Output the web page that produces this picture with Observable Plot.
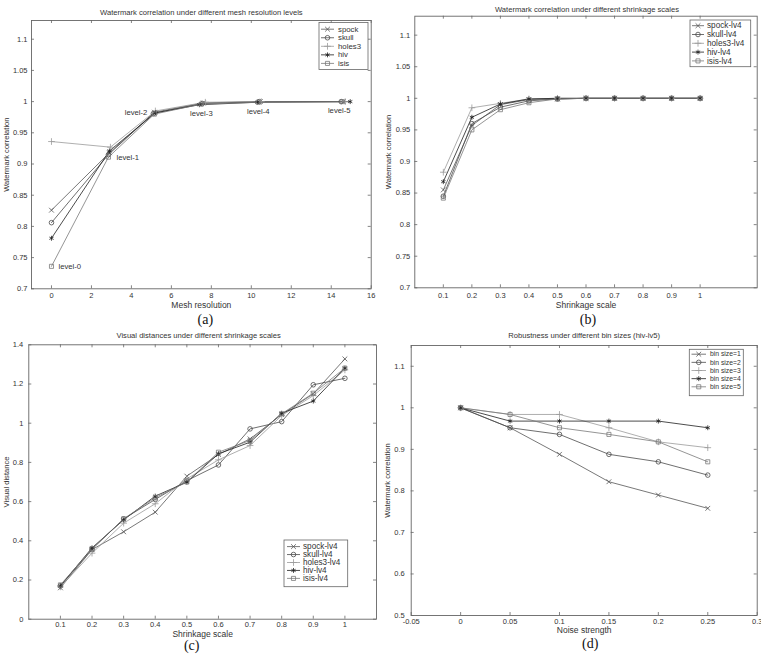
<!DOCTYPE html>
<html><head><meta charset="utf-8">
<script src="https://cdn.jsdelivr.net/npm/d3@7"></script>
<script src="https://cdn.jsdelivr.net/npm/@observablehq/plot@0.6"></script>
<style>
body{margin:0;background:#fff;}
#root{position:relative;width:761px;height:655px;overflow:hidden;background:#fff;}
.panel{position:absolute;}
</style></head><body><div id="root"></div>
<script>
// ---------- Panel (a): Watermark correlation vs mesh resolution ----------
const modelsA = ["spock", "skull", "holes3", "hiv", "isis"];
const levelNames = ["level-0", "level-1", "level-2", "level-3", "level-4", "level-5"];
const resSpock  = [0, 2.9, 5.15, 7.6, 10.45, 14.6];
const resSkull  = [0, 2.85, 5.1, 7.55, 10.4, 14.5];
const resHoles3 = [0, 2.95, 5.2, 7.7, 10.5, 14.7];
const resHiv    = [0, 2.9, 5.2, 7.4, 10.3, 14.95];
const resIsis   = [0, 2.85, 5.15, 7.5, 10.35, 14.55];
const corrSpockA  = [0.826, 0.918, 0.983, 0.998, 1.0, 1.0];
const corrSkullA  = [0.806, 0.915, 0.981, 0.997, 1.0, 1.0];
const corrHoles3A = [0.936, 0.927, 0.985, 0.999, 1.0, 1.0];
const corrHivA    = [0.781, 0.921, 0.982, 0.995, 0.999, 1.0];
const corrIsisA   = [0.736, 0.911, 0.980, 0.996, 0.999, 1.0];
const xTicksA = [0, 2, 4, 6, 8, 10, 12, 14, 16];
const yTicksCorr = [0.7, 0.75, 0.8, 0.85, 0.9, 0.95, 1, 1.05, 1.1];

// ---------- Panel (b): Watermark correlation vs shrinkage scale ----------
const modelsB = ["spock-lv4", "skull-lv4", "holes3-lv4", "hiv-lv4", "isis-lv4"];
const shrinkScales = [0.1, 0.2, 0.3, 0.4, 0.5, 0.6, 0.7, 0.8, 0.9, 1.0];
const corrSpockB  = [0.855, 0.957, 0.990, 0.998, 0.999, 1, 1, 1, 1, 1];
const corrSkullB  = [0.845, 0.960, 0.986, 0.996, 0.999, 1, 1, 1, 1, 1];
const corrHoles3B = [0.883, 0.985, 0.992, 0.999, 1.0, 1, 1, 1, 1, 1];
const corrHivB    = [0.868, 0.970, 0.991, 0.999, 1.0, 1, 1, 1, 1, 1];
const corrIsisB   = [0.842, 0.950, 0.982, 0.993, 0.999, 1, 1, 1, 1, 1];
const xTicksShrink = [0.1, 0.2, 0.3, 0.4, 0.5, 0.6, 0.7, 0.8, 0.9, 1];

// ---------- Panel (c): Visual distance vs shrinkage scale ----------
const distSpock  = [0.16, 0.355, 0.446, 0.546, 0.730, 0.840, 0.920, 1.044, 1.150, 1.328];
const distSkull  = [0.17, 0.357, 0.512, 0.611, 0.707, 0.787, 0.971, 1.008, 1.196, 1.229];
const distHoles3 = [0.165, 0.337, 0.490, 0.589, 0.716, 0.813, 0.886, 1.039, 1.141, 1.272];
const distHiv    = [0.17, 0.364, 0.507, 0.628, 0.699, 0.844, 0.903, 1.051, 1.113, 1.281];
const distIsis   = [0.175, 0.359, 0.512, 0.620, 0.700, 0.852, 0.912, 1.048, 1.153, 1.281];
const yTicksDist = [0, 0.2, 0.4, 0.6, 0.8, 1, 1.2, 1.4];

// ---------- Panel (d): Robustness under different bin sizes ----------
const binNames = ["bin size=1", "bin size=2", "bin size=3", "bin size=4", "bin size=5"];
const noiseStrength = [0, 0.05, 0.1, 0.15, 0.2, 0.25];
const corrBin1 = [1.0, 0.952, 0.888, 0.822, 0.790, 0.758];
const corrBin2 = [1.0, 0.952, 0.936, 0.888, 0.870, 0.838];
const corrBin3 = [1.0, 0.984, 0.984, 0.952, 0.918, 0.904];
const corrBin4 = [1.0, 0.968, 0.968, 0.968, 0.968, 0.952];
const corrBin5 = [1.0, 0.984, 0.952, 0.936, 0.918, 0.870];
const xTicksNoise = [-0.05, 0, 0.05, 0.1, 0.15, 0.2, 0.25, 0.3];
const yTicksD = [0.5, 0.6, 0.7, 0.8, 0.9, 1, 1.1];

// ---------- styling ----------
const FONT = "'Liberation Sans', Arial, Helvetica, sans-serif";
const SERIF = "'Liberation Serif', 'Times New Roman', serif";
const GRAYS = ["#555", "#4a4a4a", "#9a9a9a", "#1e1e1e", "#7a7a7a"];
const SYMBOLS = ["times", "circle", "plus", "asterisk", "square"];
const SYM_D3 = [d3.symbolTimes, d3.symbolCircle, d3.symbolPlus, d3.symbolAsterisk, d3.symbolSquare];
const R = 2.3;
const fmt = d => String(+(+d).toFixed(3));

function toRows(names, xs, ys) {
  return names.flatMap((s, i) => xs[i].map((x, j) => ({series: s, x, y: ys[i][j], k: j})));
}

function addLegend(svg, L, labels) {
  const g = d3.select(svg).append("g").attr("font-family", FONT).attr("font-size", L.fs);
  g.append("rect").attr("x", L.x).attr("y", L.y).attr("width", L.w).attr("height", L.h)
    .attr("fill", "#fff").attr("stroke", "#666").attr("stroke-width", 0.8);
  labels.forEach((lab, i) => {
    const yy = L.y0 + i * L.step;
    g.append("line").attr("x1", L.lx1).attr("x2", L.lx2).attr("y1", yy).attr("y2", yy)
      .attr("stroke", GRAYS[i]).attr("stroke-width", 0.8);
    g.append("path").attr("d", d3.symbol(SYM_D3[i], Math.PI * R * R)())
      .attr("transform", `translate(${(L.lx1 + L.lx2) / 2},${yy})`)
      .attr("fill", "none").attr("stroke", GRAYS[i]).attr("stroke-width", 0.8);
    g.append("text").attr("x", L.tx).attr("y", yy).attr("dy", "0.33em")
      .attr("text-anchor", "start").attr("fill", "#333").text(lab);
  });
}

function panel(c) {
  const [mt, mr, mb, ml] = c.m;
  const fw = c.w - ml - mr, fh = c.h - mt - mb, tk = 3;
  const txt = {lineAnchor: "middle", textAnchor: "middle", fill: "#333"};
  const svg = Plot.plot({
    width: c.w, height: c.h, marginTop: mt, marginRight: mr, marginBottom: mb, marginLeft: ml,
    style: {fontFamily: FONT, fontSize: "7.5px", color: "#333", background: "#fff", overflow: "visible"},
    x: {domain: c.xDomain, label: null},
    y: {domain: c.yDomain, label: null},
    color: {domain: c.names, range: GRAYS},
    symbol: {domain: c.names, range: SYMBOLS},
    marks: [
      Plot.frame({stroke: "#666", strokeWidth: 0.9}),
      Plot.ruleX(c.xTicks, {stroke: "#666", strokeWidth: 0.8, insetTop: fh - tk}),
      Plot.ruleX(c.xTicks, {stroke: "#666", strokeWidth: 0.8, insetBottom: fh - tk}),
      Plot.ruleY(c.yTicks, {stroke: "#666", strokeWidth: 0.8, insetRight: fw - tk}),
      Plot.ruleY(c.yTicks, {stroke: "#666", strokeWidth: 0.8, insetLeft: fw - tk}),
      Plot.axisX(c.xTicks, {anchor: "bottom", tickSize: 0, tickPadding: c.xPad, tickFormat: fmt, label: null}),
      Plot.axisY(c.yTicks, {anchor: "left", tickSize: 0, tickPadding: c.yPad, tickFormat: fmt, label: null}),
      Plot.line(c.data, {x: "x", y: "y", z: "series", stroke: "series", strokeWidth: 0.8}),
      Plot.dot(c.data, {x: "x", y: "y", symbol: "series", stroke: "series", fill: "none", r: R, strokeWidth: 0.8}),
      Plot.text([c.title], {...txt, frameAnchor: "top", dx: c.titleD[0], dy: c.titleD[1], fontSize: 7.6}),
      Plot.text([c.xLabel], {...txt, frameAnchor: "bottom", dy: c.xLabelDy, fontSize: 8.5}),
      Plot.text([c.yLabel], {...txt, frameAnchor: "left", dx: c.yLabelDx, rotate: -90, fontSize: 7.6}),
      Plot.text([c.caption], {...txt, frameAnchor: "bottom", dx: c.capD[0], dy: c.capD[1], fontSize: 14, fontFamily: SERIF, fill: "#111"}),
      ...(c.extra || [])
    ]
  });
  addLegend(svg, c.legend, c.legendLabels);
  const div = document.createElement("div");
  div.className = "panel";
  div.style.left = c.left + "px";
  div.style.top = c.top + "px";
  div.appendChild(svg);
  document.getElementById("root").appendChild(div);
}

// ---------- build tables ----------
const dataA = toRows(modelsA, [resSpock, resSkull, resHoles3, resHiv, resIsis],
  [corrSpockA, corrSkullA, corrHoles3A, corrHivA, corrIsisA]);
const dataB = toRows(modelsB, modelsB.map(() => shrinkScales),
  [corrSpockB, corrSkullB, corrHoles3B, corrHivB, corrIsisB]);
const dataC = toRows(modelsB, modelsB.map(() => shrinkScales),
  [distSpock, distSkull, distHoles3, distHiv, distIsis]);
const dataD = toRows(binNames, binNames.map(() => noiseStrength),
  [corrBin1, corrBin2, corrBin3, corrBin4, corrBin5]);

// level annotations anchored to data points of panel (a)
const levelStyle = [
  {src: "isis", textAnchor: "start", dx: 7, dy: 0},
  {src: "isis", textAnchor: "start", dx: 8, dy: 0},
  {src: "hiv", textAnchor: "end", dx: -8, dy: 0},
  {src: "isis", textAnchor: "middle", dx: 0, dy: 9.5},
  {src: "isis", textAnchor: "middle", dx: 0, dy: 9},
  {src: "isis", textAnchor: "middle", dx: -3, dy: 9}
];
const levelMarks = levelNames.map((name, k) => {
  const st = levelStyle[k];
  const pt = dataA.filter(d => d.series === st.src && d.k === k);
  return Plot.text(pt, {x: "x", y: "y", text: () => name, textAnchor: st.textAnchor,
    dx: st.dx, dy: st.dy, fontSize: 7.7, fill: "#333"});
});

panel({
  left: 0, top: 0, w: 380, h: 330, m: [20, 9.3, 41.7, 31],
  data: dataA, names: modelsA, xDomain: [-1, 16], yDomain: [0.7, 1.13],
  xTicks: xTicksA, yTicks: yTicksCorr, xPad: 4, yPad: 4,
  title: "Watermark correlation under different mesh resolution levels", titleD: [0, -8],
  xLabel: "Mesh resolution", xLabelDy: 16, yLabel: "Watermark correlation", yLabelDx: -25,
  caption: "(a)", capD: [4, 31],
  legend: {x: 319, y: 22.5, w: 49, h: 47, y0: 29.2, step: 8.55, lx1: 321, lx2: 334, tx: 338, fs: 7.8},
  legendLabels: modelsA, extra: levelMarks
});

panel({
  left: 380, top: 0, w: 381, h: 330, m: [15.7, 4.3, 42.7, 34.3],
  data: dataB, names: modelsB, xDomain: [0, 1.2], yDomain: [0.7, 1.13],
  xTicks: xTicksShrink, yTicks: yTicksCorr, xPad: 5, yPad: 4.5,
  title: "Watermark correlation under different shrinkage scales", titleD: [1, -7],
  xLabel: "Shrinkage scale", xLabelDy: 17, yLabel: "Watermark correlation", yLabelDx: -26,
  caption: "(b)", capD: [2, 32],
  legend: {x: 310, y: 20, w: 60.7, h: 46.7, y0: 25.7, step: 8.8, lx1: 312, lx2: 324, tx: 327, fs: 8.2},
  legendLabels: modelsB
});

panel({
  left: 0, top: 330, w: 380, h: 325, m: [14.3, 4, 36.3, 28.3],
  data: dataC, names: modelsB, xDomain: [0, 1.1], yDomain: [0, 1.4],
  xTicks: xTicksShrink, yTicks: yTicksDist, xPad: 2.6, yPad: 5.5,
  title: "Visual distances under different shrinkage scales", titleD: [-4, -9.6],
  xLabel: "Shrinkage scale", xLabelDy: 15.5, yLabel: "Visual distance", yLabelDx: -22.5,
  caption: "(c)", capD: [-11, 26.5],
  legend: {x: 284, y: 210, w: 63.7, h: 46.7, y0: 216.6, step: 7.95, lx1: 287, lx2: 300, tx: 303, fs: 8.2},
  legendLabels: modelsB
});

panel({
  left: 380, top: 330, w: 381, h: 325, m: [15, 4.3, 40, 30.7],
  data: dataD, names: binNames, xDomain: [-0.05, 0.3], yDomain: [0.5, 1.15],
  xTicks: xTicksNoise, yTicks: yTicksD, xPad: 3.5, yPad: 6.5,
  title: "Robustness under different bin sizes (hiv-lv5)", titleD: [0, -10],
  xLabel: "Noise strength", xLabelDy: 15, yLabel: "Watermark correlation", yLabelDx: -24,
  caption: "(d)", capD: [6, 28.5],
  legend: {x: 309.3, y: 19.3, w: 54, h: 46.4, y0: 24.2, step: 8.15, lx1: 311.5, lx2: 326, tx: 330, fs: 6.8},
  legendLabels: binNames
});
</script></body></html>
